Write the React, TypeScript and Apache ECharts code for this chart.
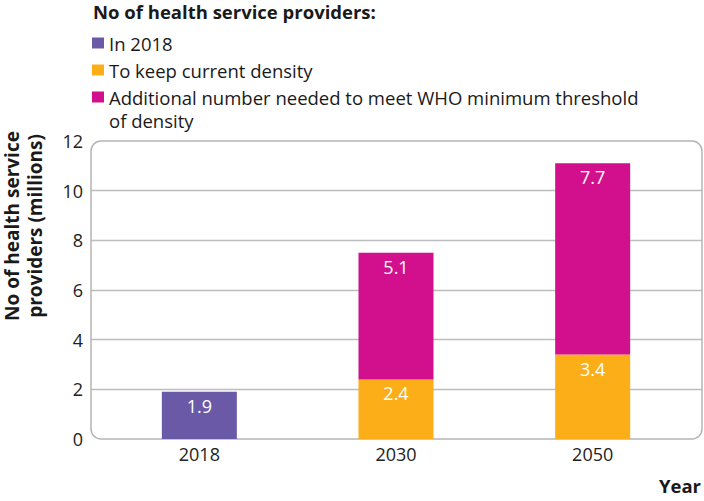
import React, { useEffect, useRef } from "react";
import * as echarts from "echarts";

const categories = ["2018", "2030", "2050"];
const seriesNames = [
  "In 2018",
  "To keep current density",
  "Additional number needed to meet WHO minimum threshold",
];
const legendContinuation = "of density";
const in2018 = [1.9, null, null];
const keepDensity = [null, 2.4, 3.4];
const additional = [null, 5.1, 7.7];
const colors = ["#6A59A7", "#FBAE17", "#D20F8C"];

const FONT = "'Open Sans', 'Noto Sans', sans-serif";

export default function App() {
  const ref = useRef<HTMLDivElement>(null);
  useEffect(() => {
    if (!ref.current) return;
    const chart = echarts.init(ref.current, null, { renderer: "svg" });
    const values = [in2018, keepDensity, additional];
    const option: any = {
      animation: false,
      textStyle: { fontFamily: FONT },
      title: {
        text: "No of health service providers:",
        left: 93,
        top: 2,
        padding: 0,
        textStyle: { fontFamily: FONT, fontSize: 18.5, lineHeight: 18, fontWeight: "bold", color: "#1a1a1a" },
      },
      legend: {
        orient: "vertical",
        left: 87,
        top: 27.5,
        itemWidth: 12,
        itemHeight: 11,
        itemGap: 6,
        icon: "rect",
        data: seriesNames,
        textStyle: { fontFamily: FONT, fontSize: 18.5, lineHeight: 21, color: "#1a1a1a" },
      },
      grid: [
        { left: 91, right: 2, top: 141, bottom: 62 },
        { left: 101, right: 10, top: 141, bottom: 62 },
      ],
      xAxis: [
        { type: "category", gridIndex: 0, data: categories, show: false },
        {
          type: "category",
          gridIndex: 1,
          data: categories,
          axisLine: { show: false },
          axisTick: { show: false },
          axisLabel: { fontFamily: FONT, fontSize: 18, color: "#222", margin: 6 },
          name: "Year",
          nameLocation: "end",
          nameGap: 0,
          nameTextStyle: {
            fontFamily: FONT,
            fontSize: 18.5,
            fontWeight: "bold",
            color: "#1a1a1a",
            align: "right",
            verticalAlign: "top",
            padding: [37, -10, 0, 0],
          },
        },
      ],
      yAxis: [
        {
          type: "value",
          gridIndex: 0,
          min: 0,
          max: 12,
          interval: 2,
          axisLine: { show: false },
          axisTick: { show: false },
          axisLabel: { fontFamily: FONT, fontSize: 18, color: "#222", margin: 8 },
          splitLine: {
            lineStyle: {
              color: ["transparent", "#BDBDBD", "#BDBDBD", "#BDBDBD", "#BDBDBD", "#BDBDBD", "transparent"],
              width: 1.3,
            },
          },
        },
        {
          type: "value",
          gridIndex: 1,
          min: 0,
          max: 12,
          interval: 2,
          show: false,
        },
      ],
      graphic: [
        {
          type: "rect",
          shape: { x: 91, y: 141, width: 611, height: 298, r: 10 },
          style: { fill: "none", stroke: "#B5B5B5", lineWidth: 1.5 },
          z: 1,
        },
        {
          type: "text",
          x: 109,
          y: 120,
          style: {
            text: legendContinuation,
            fontFamily: FONT,
            fontSize: 18.5,
            lineHeight: 21,
            fill: "#1a1a1a",
            verticalAlign: "middle",
          },
        },
        {
          type: "text",
          x: 23,
          y: 226,
          rotation: Math.PI / 2,
          style: {
            text: "No of health service\nproviders (millions)",
            fontFamily: FONT,
            fontSize: 19,
            fontWeight: "bold",
            lineHeight: 23,
            fill: "#1a1a1a",
            align: "center",
            verticalAlign: "middle",
          },
        },
      ],
      series: seriesNames.map((name, i) => ({
        name,
        type: "bar",
        stack: "total",
        xAxisIndex: 1,
        yAxisIndex: 1,
        barWidth: 75,
        z: 3,
        itemStyle: { color: colors[i] },
        data: values[i].map((v) => (v === null ? "-" : v)),
        label: {
          show: true,
          position: "insideTop",
          distance: 5,
          color: "#fff",
          fontFamily: FONT,
          fontSize: 18,
          formatter: (p: any) => Number(p.value).toFixed(1),
        },
      })),
    };
    chart.setOption(option);
    return () => chart.dispose();
  }, []);
  return (
    <div
      ref={ref}
      style={{ position: "fixed", left: 0, top: 0, width: 704, height: 501, background: "#fff" }}
    />
  );
}
